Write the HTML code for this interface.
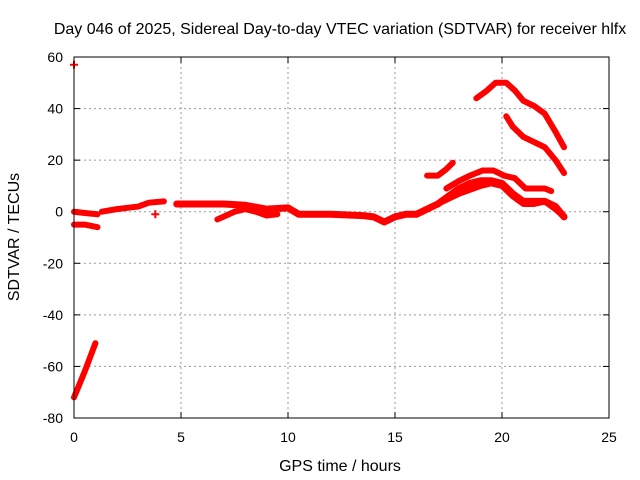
<!DOCTYPE html>
<html><head><meta charset="utf-8"><style>
body{margin:0;background:#fff}
svg{display:block;font-family:"Liberation Sans",sans-serif}
</style></head><body>
<svg id="c" width="640" height="480" xmlns="http://www.w3.org/2000/svg">
<rect width="640" height="480" fill="#fff"/>
<text x="340" y="34" font-size="16" text-anchor="middle">Day 046 of 2025, Sidereal Day-to-day VTEC variation (SDTVAR) for receiver hlfx</text>
<text x="340" y="471" font-size="16" text-anchor="middle">GPS time / hours</text>
<text transform="translate(19,237) rotate(-90)" font-size="16" text-anchor="middle">SDTVAR / TECUs</text>
<g id="grid"></g><g id="series"></g>
<rect x="74" y="57" width="535" height="361" fill="none" stroke="#000" stroke-width="1"/>
</svg>
<script>
const xTicks=[0,5,10,15,20,25];
const yTicks=[-80,-60,-40,-20,0,20,40,60];
const segMainA=[[0,0],[0.5,-0.5],[1.1,-1]];
const segMainB=[[1.3,0],[2,1],[3,2],[3.5,3.5],[4.2,4]];
const segMainC=[[4.8,3],[6,3],[7,3],[8,2.5],[9,1],[10,1.5],[10.5,-1],[12,-1],[13.5,-1.5],[14,-2],[14.5,-4],[15,-2],[15.5,-1],[16,-1],[16.5,1],[17,3],[17.5,6],[18,9],[18.5,11],[19,12],[19.5,12],[20,11],[20.5,7],[21,4],[22,4],[22.5,2],[22.9,-2]];
const segLowStart=[[0,-5],[0.5,-5],[1.1,-6]];
const segDip=[[6.7,-3],[7.5,0],[8,1],[8.5,0],[9,-1.5],[9.5,-1]];
const segUpperArc=[[17.4,9],[18,12],[18.5,14],[19.1,16],[19.6,16],[20.1,14],[20.6,13],[21.1,9],[21.5,9],[22,9],[22.3,8]];
const segLowerArc=[[17,3],[18,7],[19,10],[19.5,11],[20,10],[20.5,6],[21,3],[21.5,3],[22,4],[22.5,1],[22.9,-2]];
const segSmall=[[16.5,14],[17,14],[17.4,16.5],[17.7,19]];
const segTop=[[18.8,44],[19.3,47],[19.7,50],[20.2,50],[20.6,47],[21,43],[21.5,41],[22,38],[22.5,31],[22.9,25]];
const segSecond=[[20.2,37],[20.5,33],[21,29],[21.5,27],[22,25],[22.5,20],[22.9,15]];
const segSteep=[[0,-72],[0.5,-62],[1,-51]];
const pointsX=[0,3.8];
const pointsY=[57,-1];
const NS="http://www.w3.org/2000/svg";
const X=h=>74+h*535/25, Y=v=>418-(v+80)*361/140;
const g=document.getElementById('grid'), s=document.getElementById('series');
function mk(t,a,p){const e=document.createElementNS(NS,t);for(const k in a)e.setAttribute(k,a[k]);p.appendChild(e);return e;}
xTicks.forEach(t=>{const x=X(t);
 if(t>0&&t<25){const l=mk('line',{x1:x,x2:x,y1:57,y2:418,stroke:'#999','stroke-dasharray':'2,3'},g);
 
 }
 mk('line',{x1:x,x2:x,y1:418,y2:412,stroke:'#000'},g);mk('line',{x1:x,x2:x,y1:57,y2:63,stroke:'#000'},g);
 const tx=mk('text',{x:x,y:442,'font-size':14,'text-anchor':'middle'},g);tx.textContent=t;
 
 });
yTicks.forEach(t=>{const y=Y(t);
 if(t>-80&&t<60){const l=mk('line',{x1:74,x2:609,y1:y,y2:y,stroke:'#999','stroke-dasharray':'2,3'},g);
 
 }
 mk('line',{x1:74,x2:80,y1:y,y2:y,stroke:'#000'},g);mk('line',{x1:609,x2:603,y1:y,y2:y,stroke:'#000'},g);
 const tx=mk('text',{x:63,y:y+5,'font-size':14,'text-anchor':'end'},g);tx.textContent=t;
 
 });
[segMainA,segMainB,segMainC,segLowStart,segDip,segUpperArc,segLowerArc,segSmall,segTop,segSecond,segSteep].forEach((seg,i)=>{
 const p=mk('polyline',{points:seg.map(d=>X(d[0])+','+Y(d[1])).join(' '),fill:'none',stroke:'#f00','stroke-width':i==2?7:6,'stroke-linejoin':'round','stroke-linecap':'round'},s);
 
 });
pointsX.forEach((h,i)=>{const x=X(h),y=Y(pointsY[i]);
 const p=mk('path',{d:`M${x-4},${y}H${x+4}M${x},${y-4}V${y+4}`,stroke:'#f00','stroke-width':2},s);
 
 });
</script>
</body></html>
